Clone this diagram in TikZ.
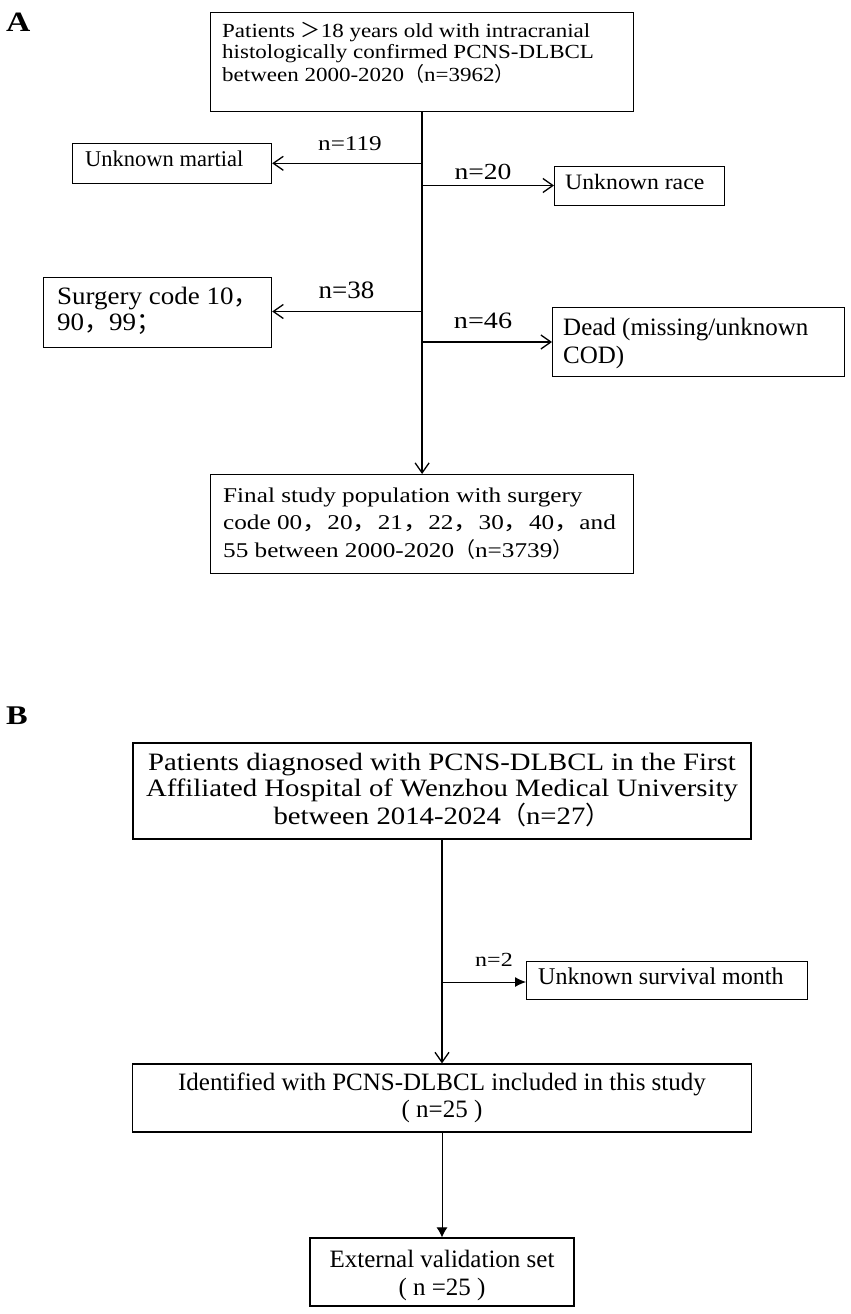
\documentclass[tikz,border=0pt]{standalone}
\usepackage{fontspec}
\setmainfont{Liberation Serif}
\newfontfamily\sA{Liberation Serif}[FakeStretch=1.2]
\newfontfamily\sB{Liberation Serif}[FakeStretch=1.15]
\newfontfamily\sC{Liberation Serif}[FakeStretch=1.08]
\newfontfamily\cjk{Noto Sans CJK SC}
\newfontfamily\cjkw{Noto Sans CJK SC}[FakeStretch=1.2]
\usetikzlibrary{arrows.meta}
\newcommand{\fs}[2]{\fontsize{#1}{#2}\selectfont}
\newcommand{\fw}[1]{{\cjk #1}}
\newcommand{\fww}[1]{{\cjkw #1}}
\begin{document}
\begin{tikzpicture}[x=1pt,y=-1pt,
  box/.style={draw=black, line width=1.2pt, inner sep=0pt},
  txt/.style={inner sep=0pt, align=left, anchor=north west},
  lbl/.style={inner sep=0pt, anchor=base},
  flow/.style={line width=1.5pt, -{Straight Barb[length=10pt,width=14pt,line width=1.3pt]}},
  flowthin/.style={line width=1pt, -{Latex[length=10pt,width=11pt]}},
  flowsmall/.style={line width=1pt, -{Latex[length=11pt,width=10pt]}},
 ]
\useasboundingbox (0,0) rectangle (851,1314);

% ---------- Panel A ----------
\node[inner sep=0pt, anchor=base west, font=\fs{28}{30}\sA\bfseries] (labA) at (6,32) {A};

\node[box, anchor=north west, minimum width=423pt, minimum height=99pt] (top) at (210,12) {};
\node[txt, font=\fs{20}{21.3}\sB] (toptxt) at (222,22) {Patients \fw{＞}18 years old with intracranial\\histologically confirmed PCNS-DLBCL\\between 2000-2020\fw{（}n=3962\fw{）}};

\node[box, anchor=north west, minimum width=199pt, minimum height=40pt] (martial) at (72,143) {};
\node[inner sep=0pt, anchor=base west, font=\fs{22.5}{24}] (martialtxt) at (85,166) {Unknown martial};

\node[box, anchor=north west, minimum width=170pt, minimum height=39pt] (race) at (554,166) {};
\node[inner sep=0pt, anchor=base west, font=\fs{22}{24}\sC] (racetxt) at (565,189) {Unknown race};

\node[box, anchor=north west, minimum width=228pt, minimum height=70pt] (surg) at (43,277) {};
\node[txt, font=\fs{25}{26}\sC] (surgtxt) at (57,287) {Surgery code 10\fw{，}\\90\fw{，}99\fw{；}};

\node[box, anchor=north west, minimum width=292pt, minimum height=69pt] (dead) at (552,307) {};
\node[txt, font=\fs{25}{27.7}] (deadtxt) at (563,318) {Dead (missing/unknown\\COD)};

\node[box, anchor=north west, minimum width=423pt, minimum height=99pt] (final) at (210,474) {};
\node[txt, font=\fs{21}{27.5}\sA] (finaltxt) at (223,487.5) {Final study population with surgery\\code 00\fww{，}20\fww{，}21\fww{，}22\fww{，}30\fww{，}40\fww{，}and\\55 between 2000-2020\fw{（}n=3739\fw{）}};

\coordinate (b1) at (421.5,163.3);
\coordinate (b2) at (421.5,185.5);
\coordinate (b3) at (421.5,311.5);
\coordinate (b4) at (421.5,342);

\draw[flow] (top.south) -- (final.north);
\draw[flow] (b1) -- (b1 -| martial.east);
\draw[flow] (b2) -- (b2 -| race.west);
\draw[flow] (b3) -- (b3 -| surg.east);
\draw[flow] (b4) -- (b4 -| dead.west);

\node[lbl, font=\fs{21}{24}\sA] (n119) at (350,150.7) {n=119};
\node[lbl, font=\fs{23}{24}\sA] (n20) at (483,179) {n=20};
\node[lbl, font=\fs{25}{26}\sC] (n38) at (346.5,298.3) {n=38};
\node[lbl, font=\fs{23.5}{24}\sA] (n46) at (483,328.3) {n=46};

% ---------- Panel B ----------
\node[inner sep=0pt, anchor=base west, font=\fs{27}{30}\sA\bfseries] (labB) at (6,724) {B};

\node[box, minimum width=618pt, minimum height=96pt] (btop) at (442,791) {};
\node[inner sep=0pt, anchor=north, align=center, font=\fs{25}{26.5}\sB] (btoptxt) at (442,752.7) {Patients diagnosed with PCNS-DLBCL in the First\\Affiliated Hospital of Wenzhou Medical University\\between 2014-2024\fw{（}n=27\fw{）}};

\node[box, anchor=north west, minimum width=281pt, minimum height=38pt] (surv) at (526,961) {};
\node[inner sep=0pt, anchor=base west, font=\fs{24}{26}] (survtxt) at (538,984) {Unknown survival month};

\node[box, minimum width=619pt, minimum height=68pt, align=center, font=\fs{25}{26.5}] (ident) at (442,1098) {Identified with PCNS-DLBCL included in this study\\( n=25 )};

\node[box, minimum width=264pt, minimum height=68pt] (ext) at (442,1272) {};
\node[inner sep=0pt, anchor=north, align=center, font=\fs{25}{28}] (exttxt) at (442,1250) {External validation set\\( n =25 )};

\coordinate (b5) at (442,982);
\draw[flow, line width=1.3pt] (btop.south) -- (ident.north);
\draw[flowsmall] (b5) -- (b5 -| surv.west);
\draw[flowthin] (ident.south) -- (ext.north);

\node[lbl, font=\fs{20}{22}\sA] (n2) at (494,966) {n=2};
\end{tikzpicture}
\end{document}
